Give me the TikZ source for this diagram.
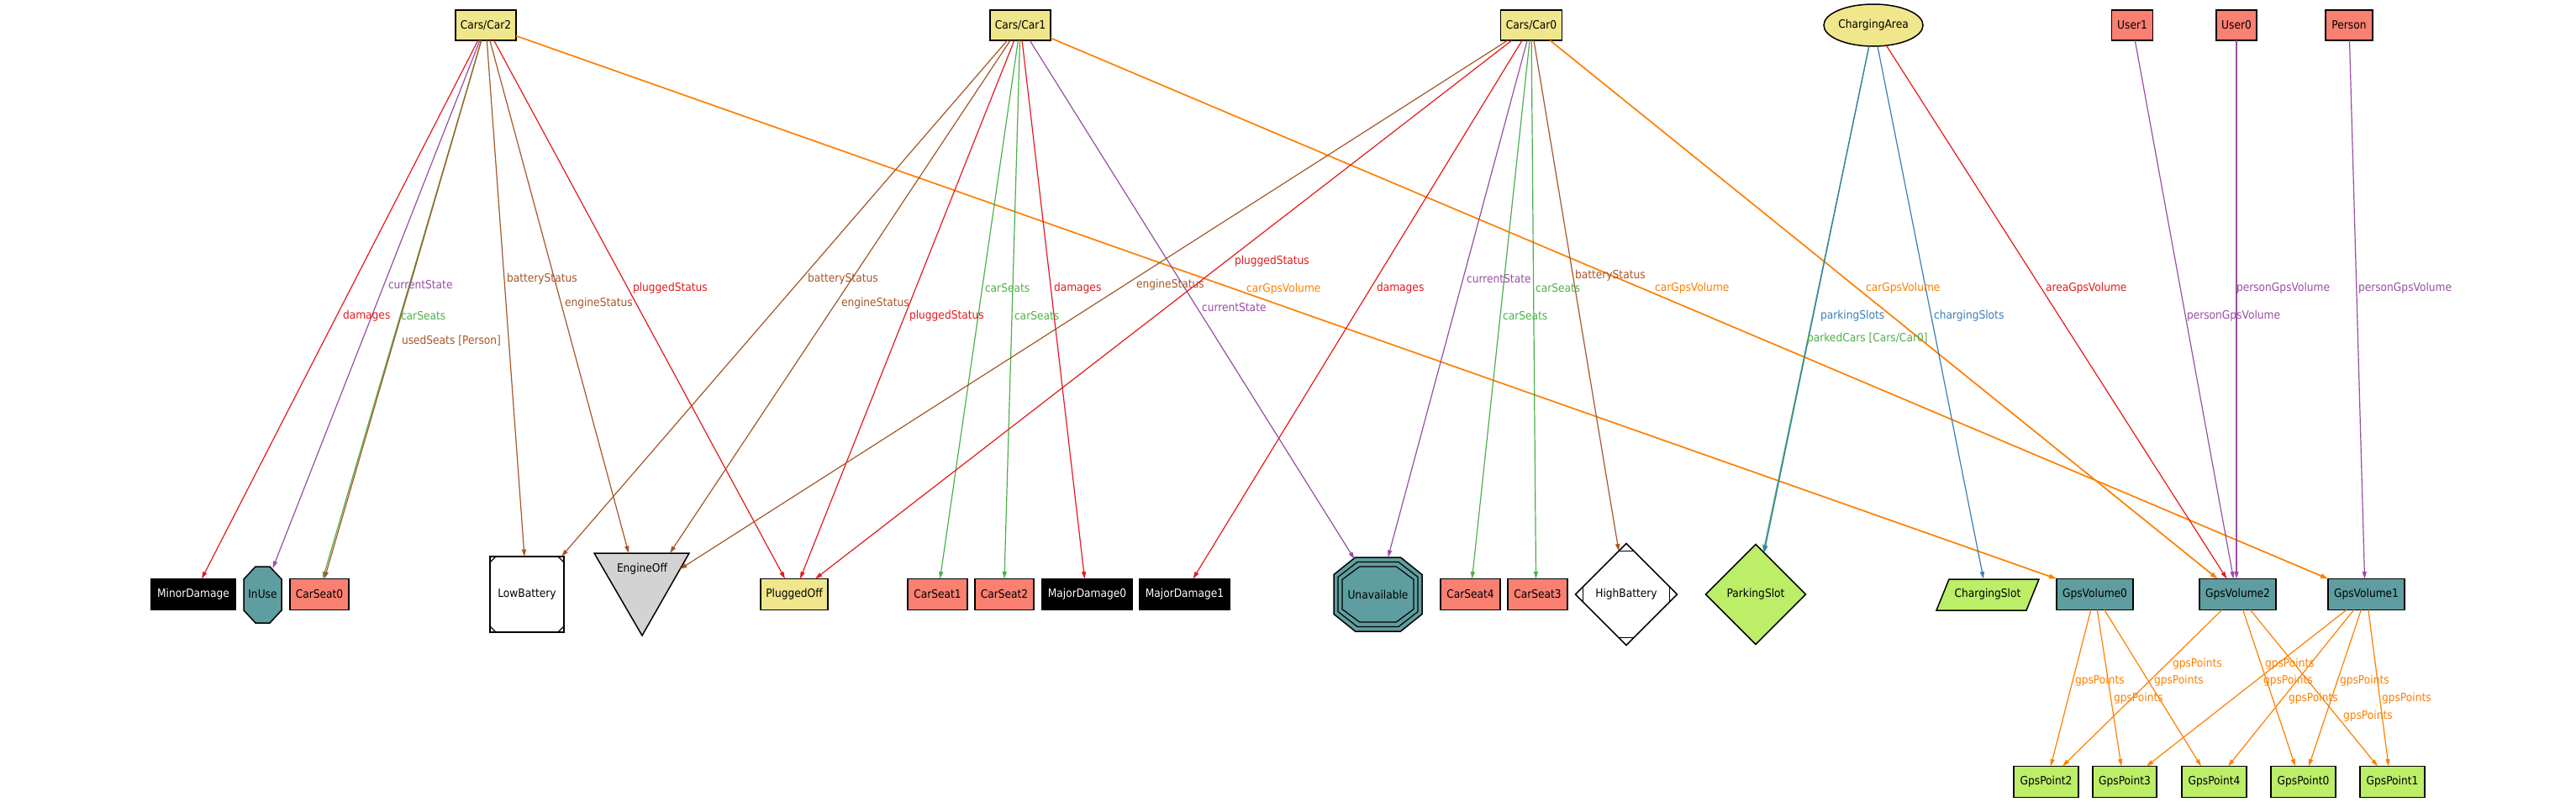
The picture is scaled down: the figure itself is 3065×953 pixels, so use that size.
\documentclass[tikz,border=0pt]{standalone}
\usepackage{fontspec}
\setmainfont{DejaVu Sans}[FakeStretch=0.9]
\usetikzlibrary{arrows.meta,shapes.geometric}
\definecolor{cred}{HTML}{E41A1C}
\definecolor{cblue}{HTML}{377EB8}
\definecolor{cgreen}{HTML}{4DAF4A}
\definecolor{cpurple}{HTML}{984EA3}
\definecolor{corange}{HTML}{FF7F00}
\definecolor{cbrown}{HTML}{A65628}
\definecolor{khaki}{HTML}{F0E68C}
\definecolor{salmon}{HTML}{FA8072}
\definecolor{cadet}{HTML}{5F9EA0}
\definecolor{lgreen}{HTML}{BCEE68}
\definecolor{lgray}{HTML}{D3D3D3}
\begin{document}
\begin{tikzpicture}[x=1pt,y=-1pt,
  every node/.style={font=\fontsize{13.6}{16}\selectfont, inner sep=0pt, outer sep=0pt},
  box/.style={draw=black, line width=1.5pt, rectangle, minimum height=37pt},
  tbox/.style={box, minimum height=36pt},
  shp/.style={draw=black, line width=1.5pt},
  e/.style={line width=1.2pt, -{Triangle[length=8.5pt,width=5pt]}},
  e2/.style={line width=1.7pt, -{Triangle[length=9pt,width=5.5pt]}},
  lab/.style={anchor=west}]
\useasboundingbox (0,0) rectangle (3065,953);

% ---------- top row ----------
\node[tbox, fill=khaki, minimum width=72pt] (c2) at (578,30) {Cars/Car2};
\node[tbox, fill=khaki, minimum width=72pt] (c1) at (1214,30) {Cars/Car1};
\node[tbox, fill=khaki, minimum width=73pt] (c0) at (1822,30) {Cars/Car0};
\node[shp, ellipse, fill=khaki, minimum width=110pt, minimum height=50pt] (area) at (2229,30) {ChargingArea};
\node[tbox, fill=salmon, minimum width=49pt] (user1) at (2537,30) {User1};
\node[tbox, fill=salmon, minimum width=48pt] (user0) at (2661,30) {User0};
\node[tbox, fill=salmon, minimum width=56pt] (person) at (2795,30) {Person};

% ---------- bottom row ----------
\node[box, fill=black, text=white, minimum width=100pt] (minor) at (230,707) {MinorDamage};
\draw[shp, fill=cadet] (304,674)--(321,674)--(335,689)--(335,726)--(321,741)--(304,741)--(290,726)--(290,689)--cycle;
\node (inuse) at (312.5,707) {InUse};
\node[box, fill=salmon, minimum width=70pt] (cs0) at (380,707) {CarSeat0};
\node[box, fill=white, minimum width=88pt, minimum height=90pt] (lowbat) at (627,707) {LowBattery};
\draw[line width=1.2pt] ([yshift=-7pt]lowbat.north west) -- ([xshift=7pt]lowbat.north west);
\draw[line width=1.2pt] ([yshift=-7pt]lowbat.north east) -- ([xshift=-7pt]lowbat.north east);
\draw[line width=1.2pt] ([yshift=7pt]lowbat.south west) -- ([xshift=7pt]lowbat.south west);
\draw[line width=1.2pt] ([yshift=7pt]lowbat.south east) -- ([xshift=-7pt]lowbat.south east);
\draw[shp, fill=lgray] (707,658)--(820,658)--(764,756)--cycle;
\node (eoff) at (764,677) {EngineOff};
\node[box, fill=khaki, minimum width=80pt] (plugoff) at (945,707) {PluggedOff};
\node[box, fill=salmon, minimum width=71pt] (cs1) at (1115.5,707) {CarSeat1};
\node[box, fill=salmon, minimum width=70pt] (cs2) at (1195,707) {CarSeat2};
\node[box, fill=black, text=white, minimum width=107pt] (md0) at (1293.5,707) {MajorDamage0};
\node[box, fill=black, text=white, minimum width=107pt] (md1) at (1409.5,707) {MajorDamage1};
\begin{scope}[shift={(1639.5,707)}]
  \draw[shp, fill=cadet] (-27,-44)--(27,-44)--(52.5,-23.5)--(52.5,23.5)--(27,44)--(-27,44)--(-52.5,23.5)--(-52.5,-23.5)--cycle;
  \begin{scope}[xscale=0.905, yscale=0.875]
    \draw[line width=1.2pt] (-27,-44)--(27,-44)--(52.5,-23.5)--(52.5,23.5)--(27,44)--(-27,44)--(-52.5,23.5)--(-52.5,-23.5)--cycle;
  \end{scope}
  \begin{scope}[xscale=0.81, yscale=0.75]
    \draw[line width=1.2pt] (-27,-44)--(27,-44)--(52.5,-23.5)--(52.5,23.5)--(27,44)--(-27,44)--(-52.5,23.5)--(-52.5,-23.5)--cycle;
  \end{scope}
\end{scope}
\node (unav) at (1639.5,707) {Unavailable};
\node[box, fill=salmon, minimum width=71pt] (cs4) at (1749.5,707) {CarSeat4};
\node[box, fill=salmon, minimum width=71pt] (cs3) at (1829.5,707) {CarSeat3};
\node[shp, diamond, fill=white, minimum width=121pt, minimum height=121pt] (hibat) at (1935,707) {HighBattery};
\draw[line width=1.2pt] ([xshift=-9pt,yshift=-9pt]hibat.north) -- ([xshift=9pt,yshift=-9pt]hibat.north);
\draw[line width=1.2pt] ([xshift=-9pt,yshift=9pt]hibat.south) -- ([xshift=9pt,yshift=9pt]hibat.south);
\draw[line width=1.2pt] ([xshift=9pt,yshift=9pt]hibat.west) -- ([xshift=9pt,yshift=-9pt]hibat.west);
\draw[line width=1.2pt] ([xshift=-9pt,yshift=9pt]hibat.east) -- ([xshift=-9pt,yshift=-9pt]hibat.east);
\node[shp, diamond, fill=lgreen, minimum width=119pt, minimum height=119pt] (pslot) at (2089,707) {ParkingSlot};
\draw[shp, fill=lgreen] (2319,689)--(2426,689)--(2411,726)--(2304,726)--cycle;
\node[minimum width=122pt, minimum height=37pt] (cslot) at (2365,707) {ChargingSlot};
\node[box, fill=cadet, minimum width=91pt] (gv0) at (2492.5,707) {GpsVolume0};
\node[box, fill=cadet, minimum width=91pt] (gv2) at (2662.5,707) {GpsVolume2};
\node[box, fill=cadet, minimum width=91pt] (gv1) at (2815.5,707) {GpsVolume1};

\node[box, fill=lgreen, minimum width=77pt] (gp2) at (2434.5,930) {GpsPoint2};
\node[box, fill=lgreen, minimum width=76pt] (gp3) at (2528,930) {GpsPoint3};
\node[box, fill=lgreen, minimum width=77pt] (gp4) at (2634.5,930) {GpsPoint4};
\node[box, fill=lgreen, minimum width=77pt] (gp0) at (2740.5,930) {GpsPoint0};
\node[box, fill=lgreen, minimum width=77pt] (gp1) at (2846.5,930) {GpsPoint1};

% ---------- edges ----------
% Car2
\draw[e,cred] (c2) -- ([xshift=10pt]minor.north);
\draw[e,cpurple] (c2) -- ([xshift=12pt,yshift=31pt]inuse.center);
\draw[e,cgreen] (c2) -- ([xshift=4pt]cs0.north);
\draw[e,cbrown] (c2) -- ([xshift=6pt]cs0.north);
\draw[e,cbrown] (c2) -- ([xshift=-3pt]lowbat.north);
\draw[e,cbrown] (c2) -- ([xshift=-16pt,yshift=19pt]eoff.center);
\draw[e,cred] (c2) -- ([xshift=-11pt]plugoff.north);
\draw[e2,corange] (c2) -- (gv0.north west);
% Car1
\draw[e,cbrown] (c1) -- ([xshift=41pt]lowbat.north);
\draw[e,cbrown] (c1) -- ([xshift=33pt,yshift=19pt]eoff.center);
\draw[e,cred] (c1) -- ([xshift=7pt]plugoff.north);
\draw[e,cgreen] (c1) -- ([xshift=3pt]cs1.north);
\draw[e,cgreen] (c1) -- (cs2.north);
\draw[e,cred] (c1) -- ([xshift=-3pt]md0.north);
\draw[e,cpurple] (c1) -- ([xshift=-28pt,yshift=42pt]unav.center);
\draw[e2,corange] (c1) -- (gv1.north west);
% Car0
\draw[e,cbrown] (c0) -- ([xshift=45pt]eoff.center);
\draw[e,cred] (c0) -- ([xshift=25pt]plugoff.north);
\draw[e,cred] (c0) -- ([xshift=10pt]md1.north);
\draw[e,cpurple] (c0) -- ([xshift=12pt,yshift=44pt]unav.center);
\draw[e,cgreen] (c0) -- ([xshift=2pt]cs4.north);
\draw[e,cgreen] (c0) -- ([xshift=-2pt]cs3.north);
\draw[e,cbrown] (c0) -- ([xshift=-9pt,yshift=-9pt]hibat.north);
\draw[e2,corange] (c0) -- ([xshift=-24pt]gv2.north);
% ChargingArea
\draw[e,cgreen] (area) -- ([xshift=9pt,yshift=-9pt]pslot.north);
\draw[e,cblue] (area) -- ([xshift=10pt,yshift=-10pt]pslot.north);
\draw[e,cblue] (area) -- ([xshift=-5pt]cslot.north);
\draw[e,cred] (area) -- ([xshift=-13pt]gv2.north);
% persons
\draw[e,cpurple] (user1) -- ([xshift=-5pt]gv2.north);
\draw[e,cpurple] (user0) -- ([xshift=-1.5pt]gv2.north);
\draw[e,cpurple] (person) -- ([xshift=-2pt]gv1.north);
% gps
\draw[e,corange] (gv0) -- ([xshift=5.5pt]gp2.north);
\draw[e,corange] (gv0) -- ([xshift=-4pt]gp3.north);
\draw[e,corange] (gv0) -- ([xshift=-15.5pt]gp4.north);
\draw[e,corange] (gv2) -- ([xshift=19.5pt]gp2.north);
\draw[e,corange] (gv2) -- ([xshift=-9.5pt]gp0.north);
\draw[e,corange] (gv2) -- ([xshift=-17.5pt]gp1.north);
\draw[e,corange] (gv1) -- ([xshift=26pt]gp3.north);
\draw[e,corange] (gv1) -- ([xshift=16.5pt]gp4.north);
\draw[e,corange] (gv1) -- ([xshift=6.5pt]gp0.north);
\draw[e,corange] (gv1) -- ([xshift=-4.5pt]gp1.north);

% ---------- labels ----------
\node[lab,text=cpurple] (la1) at (462,339) {currentState};
\node[lab,text=cred] (la2) at (408,376) {damages};
\node[lab,text=cgreen] (la3) at (477,376) {carSeats};
\node[lab,text=cbrown] (la4) at (478,405) {usedSeats [Person]};
\node[lab,text=cbrown] (la5) at (603,332) {batteryStatus};
\node[lab,text=cbrown] (la6) at (672,361) {engineStatus};
\node[lab,text=cred] (la7) at (753,343) {pluggedStatus};
\node[lab,text=corange] (la8) at (1483,344) {carGpsVolume};

\node[lab,text=cbrown] (lb1) at (961,332) {batteryStatus};
\node[lab,text=cbrown] (lb2) at (1001,361) {engineStatus};
\node[lab,text=cred] (lb3) at (1082,376) {pluggedStatus};
\node[lab,text=cgreen] (lb4) at (1172,343) {carSeats};
\node[lab,text=cgreen] (lb5) at (1207,376) {carSeats};
\node[lab,text=cred] (lb6) at (1254,343) {damages};
\node[lab,text=cpurple] (lb7) at (1430,366) {currentState};
\node[lab,text=corange] (lb8) at (1969,343) {carGpsVolume};

\node[lab,text=cbrown] (lc1) at (1352,339) {engineStatus};
\node[lab,text=cred] (lc2) at (1469,311) {pluggedStatus};
\node[lab,text=cred] (lc3) at (1638,343) {damages};
\node[lab,text=cpurple] (lc4) at (1745,332) {currentState};
\node[lab,text=cgreen] (lc5) at (1788,376) {carSeats};
\node[lab,text=cgreen] (lc6) at (1827,343) {carSeats};
\node[lab,text=cbrown] (lc7) at (1874,328) {batteryStatus};
\node[lab,text=corange] (lc8) at (2220,343) {carGpsVolume};

\node[lab,text=cblue] (ld1) at (2166,376) {parkingSlots};
\node[lab,text=cgreen] (ld2) at (2150,403) {parkedCars [Cars/Car0]};
\node[lab,text=cblue] (ld3) at (2301,376) {chargingSlots};
\node[lab,text=cred] (ld4) at (2434,343) {areaGpsVolume};

\node[lab,text=cpurple] (le1) at (2602,376) {personGpsVolume};
\node[lab,text=cpurple] (le2) at (2661,343) {personGpsVolume};
\node[lab,text=cpurple] (le3) at (2806,343) {personGpsVolume};

\node[lab,text=corange] (lf1) at (2469,810) {gpsPoints};
\node[lab,text=corange] (lf2) at (2515,831) {gpsPoints};
\node[lab,text=corange] (lf3) at (2563,810) {gpsPoints};
\node[lab,text=corange] (lf4) at (2585,790) {gpsPoints};
\node[lab,text=corange] (lf5) at (2693,810) {gpsPoints};
\node[lab,text=corange] (lf6) at (2788,852) {gpsPoints};
\node[lab,text=corange] (lf7) at (2695,790) {gpsPoints};
\node[lab,text=corange] (lf8) at (2723,831) {gpsPoints};
\node[lab,text=corange] (lf9) at (2784,810) {gpsPoints};
\node[lab,text=corange] (lf10) at (2834,831) {gpsPoints};
\end{tikzpicture}
\end{document}
